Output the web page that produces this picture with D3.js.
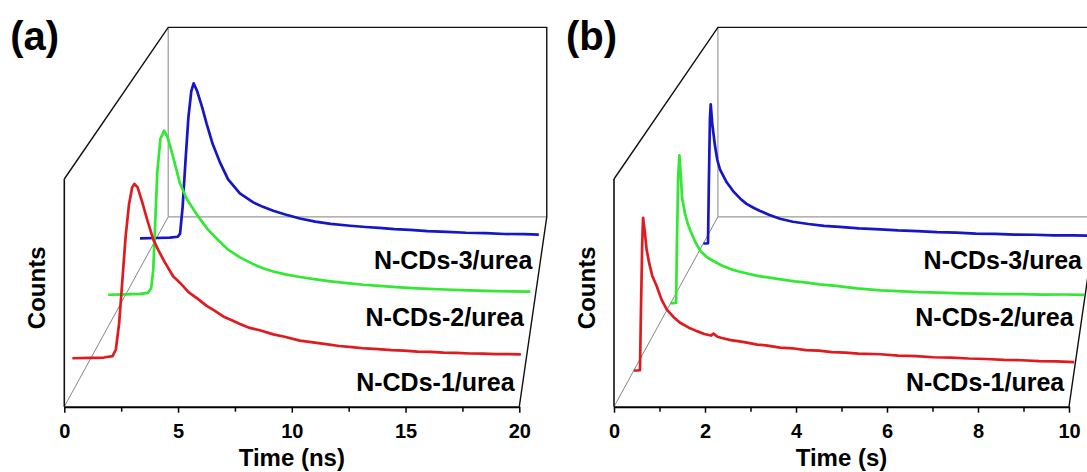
<!DOCTYPE html>
<html>
<head>
<meta charset="utf-8">
<script src="https://cdn.jsdelivr.net/npm/d3@7"></script>
<style>
  body { margin: 0; background: #fff; }
  svg text { font-family: "Liberation Sans", Arial, sans-serif; font-weight: bold; fill: #000; }
</style>
</head>
<body>
<script>
(function() {

	// ---- data ----------------------------------------------------------

	var seriesNames = ['N-CDs-1/urea', 'N-CDs-2/urea', 'N-CDs-3/urea'];
	var seriesDepth = [1, 2, 3];

	var ticksA = [0, 5, 10, 15, 20];
	var minorTicksA = [2.5, 7.5, 12.5, 17.5];
	var ticksB = [0, 2, 4, 6, 8, 10];
	var minorTicksB = [1, 3, 5, 7, 9];

	// panel (a): time in ns, normalised counts
	var decayA1 = [[-0.85,0],[0,0.002],[0.6,0.004],[1.0,0.012],[1.15,0.05],[1.3,0.2],[1.45,0.45],[1.6,0.7],
		[1.75,0.88],[1.9,0.98],[2.0,1.0],[2.15,0.98],[2.35,0.9],[2.6,0.79],[2.87,0.68],[3.1,0.62],[3.4,0.55],
		[3.78,0.47],[4.1,0.432],[4.5,0.378],[4.9,0.342],[5.32,0.3],[5.7,0.272],[6.1,0.238],[6.5,0.216],
		[6.85,0.196],[7.3,0.174],[7.8,0.159],[8.38,0.137],[8.9,0.123],[9.6,0.101],[10.2,0.091],[10.8,0.081],
		[11.4,0.07],[12,0.064],[12.6,0.056],[13.2,0.052],[13.8,0.046],[14.4,0.044],[15,0.038],[15.6,0.036],
		[16.2,0.032],[16.8,0.031],[17.4,0.027],[18,0.026],[18.6,0.024],[19.2,0.024],[19.75,0.022]];

	var decayA2 = [[-0.85,0],[0,0.002],[0.7,0.005],[1.1,0.012],[1.25,0.04],[1.35,0.15],[1.45,0.45],[1.55,0.75],
		[1.7,0.95],[1.88,1.0],[2.05,0.96],[2.3,0.85],[2.65,0.68],[3.0,0.58],[3.47,0.49],[4.0,0.4],[4.5,0.335],
		[5.0,0.275],[5.58,0.228],[6.2,0.188],[6.7,0.162],[7.2,0.142],[7.8,0.124],[8.5,0.108],[9.2,0.095],
		[10,0.082],[10.8,0.071],[11.6,0.061],[12.4,0.054],[13.2,0.046],[14,0.041],[14.8,0.036],[15.6,0.032],
		[16.4,0.028],[17.2,0.025],[18,0.022],[18.8,0.021],[19.75,0.019]];

	var decayA3 = [[-0.85,0],[0,0.002],[0.7,0.004],[1.1,0.01],[1.22,0.03],[1.35,0.2],[1.5,0.5],[1.65,0.78],
		[1.8,0.95],[1.92,1.0],[2.1,0.95],[2.35,0.85],[2.59,0.74],[2.9,0.61],[3.28,0.49],[3.7,0.38],[4.31,0.29],
		[5.0,0.232],[5.5,0.203],[6.03,0.178],[6.7,0.152],[7.41,0.128],[8.2,0.108],[9,0.093],[10,0.081],
		[10.8,0.073],[11.5,0.067],[12.3,0.059],[13.1,0.054],[14,0.047],[15,0.042],[16,0.036],[17,0.033],
		[18,0.028],[19,0.027],[19.75,0.024]];

	// panel (b): time in s, normalised counts
	var decayB1 = [[0,0],[0.08,0],[0.14,0.002],[0.16,0.35],[0.19,0.8],[0.21,0.97],[0.25,0.88],[0.29,0.77],
		[0.35,0.68],[0.42,0.6],[0.52,0.535],[0.63,0.45],[0.75,0.387],[0.9,0.34],[1.05,0.303],[1.25,0.272],
		[1.43,0.25],[1.6,0.232],[1.75,0.222],[1.81,0.234],[1.9,0.214],[2.0,0.206],[2.2,0.193],[2.4,0.185],
		[2.57,0.177],[2.8,0.164],[3.0,0.16],[3.32,0.145],[3.6,0.141],[3.9,0.129],[4.2,0.126],[4.5,0.117],
		[4.8,0.113],[5.1,0.107],[5.6,0.103],[6.0,0.094],[6.4,0.091],[6.8,0.084],[7.2,0.082],[7.6,0.076],
		[8.0,0.073],[8.4,0.067],[8.8,0.065],[9.2,0.06],[9.6,0.058],[10,0.053]];

	var decayB2 = [[0,0],[0.08,0],[0.13,0.002],[0.15,0.4],[0.18,0.85],[0.21,1.0],[0.24,0.88],[0.275,0.713],
		[0.35,0.6],[0.42,0.53],[0.48,0.488],[0.6,0.41],[0.72,0.353],[0.88,0.31],[1.04,0.283],[1.25,0.253],
		[1.45,0.23],[1.65,0.214],[1.85,0.2],[2.1,0.184],[2.35,0.174],[2.66,0.161],[3.0,0.147],[3.3,0.139],
		[3.6,0.127],[4.0,0.117],[4.5,0.099],[5.08,0.086],[5.5,0.081],[6.0,0.074],[6.5,0.071],[7.0,0.066],
		[7.5,0.064],[8.0,0.06],[8.5,0.061],[9.0,0.057],[9.5,0.058],[10,0.056]];

	var decayB3 = [[0,0],[0.07,0],[0.12,0.002],[0.14,0.4],[0.17,0.9],[0.19,1.0],[0.23,0.86],[0.3,0.7],
		[0.36,0.6],[0.43,0.53],[0.6,0.44],[0.77,0.375],[0.95,0.322],[1.11,0.285],[1.3,0.255],[1.46,0.234],
		[1.7,0.205],[1.97,0.178],[2.3,0.156],[2.7,0.14],[3.1,0.127],[3.5,0.119],[4.0,0.109],[4.55,0.102],
		[5.0,0.094],[5.5,0.089],[6.0,0.081],[6.5,0.078],[7.0,0.071],[7.5,0.069],[8.0,0.064],[8.5,0.063],
		[9.0,0.059],[9.5,0.058],[10,0.056]];

	// ---- layout --------------------------------------------------------

	var width = 1087;
	var height = 472;
	var originY = 406.7;
	var frontWidth = 455;
	var frontHeight = 227.7;
	var vanish = [618.5, -1130];      // vanishing point, relative to the front origin
	var persp = 1 / 0.832 - 1;        // back plane is drawn at 0.832 of the front size
	var colors = ['#e01b1f', '#33e833', '#1616c4'];
	var labelDepth = [0.07, 0.38, 0.69];

	var svg = d3.select('body')
		.append('svg')
			.attr('width', width)
			.attr('height', height);

	svg.append('rect')
		.attr('width', width)
		.attr('height', height)
		.attr('fill', '#fff');

	function drawPanel(cfg) {

		var g = svg.append('g')
			.attr('transform', 'translate(' + cfg.originX + ',' + originY + ')');

		var x = d3.scaleLinear().domain(cfg.timeDomain).range([0, frontWidth]);
		var y = d3.scaleLinear().domain([0, cfg.countMax]).range([0, -frontHeight]);
		var depth = d3.scaleLinear().domain(cfg.depthDomain).range([0, 1]);

		function project(t, v, u) {
			var s = 1 / (1 + persp * u);
			return [vanish[0] + (x(t) - vanish[0]) * s, vanish[1] + (y(v) - vanish[1]) * s];
		}

		var t0 = cfg.timeDomain[0], t1 = cfg.timeDomain[1], vTop = cfg.countMax;
		var seg = d3.line();

		function frame(points, color, w) {
			g.append('path')
				.attr('d', seg(points))
				.attr('fill', 'none')
				.attr('stroke', color)
				.attr('stroke-width', w);
		}

		// box behind the curves
		frame([project(t0, 0, 1), project(t1, 0, 1)], '#9a9a9a', 1.2);
		frame([project(t0, 0, 1), project(t0, vTop, 1)], '#9a9a9a', 1.2);
		frame([project(t0, 0, 0), project(t0, 0, 1)], '#666', 0.8);
		frame([project(t0, vTop, 0), project(t0, vTop, 1), project(t1, vTop, 1), project(t1, 0, 1), project(t1, 0, 0)], '#111', 1.4);
		frame([project(t0, 0, 0), project(t0, vTop, 0)], '#111', 1.6);

		// decay curves, back one first
		for (var i = cfg.series.length - 1; i >= 0; i--) {
			var u = depth(seriesDepth[i]);
			var line = d3.line()
				.x(function(d) { return project(d[0], d[1], u)[0]; })
				.y(function(d) { return project(d[0], d[1], u)[1]; });
			g.append('path')
				.datum(cfg.series[i])
				.attr('d', line)
				.attr('fill', 'none')
				.attr('stroke', colors[i])
				.attr('stroke-width', 2.7)
				.attr('stroke-linejoin', 'round');
		}

		// series labels along the right edge
		seriesNames.forEach(function(name, i) {
			var p = project(t1, 0, labelDepth[i]);
			g.append('text')
				.attr('x', p[0] - 7)
				.attr('y', p[1])
				.attr('text-anchor', 'end')
				.style('font-size', '25px')
				.text(name);
		});

		// time axis on the front plane
		var axis = g.append('g')
			.call(d3.axisBottom(x).tickValues(cfg.ticks).tickSize(6).tickPadding(11).tickSizeOuter(0).tickFormat(d3.format('d')));
		axis.select('.domain').attr('stroke', '#000').attr('stroke-width', 2);
		axis.selectAll('.tick line').attr('stroke', '#000').attr('stroke-width', 1.5);
		axis.selectAll('.tick text')
			.attr('fill', '#000')
			.style('font-size', '20px')
			.style('font-family', '"Liberation Sans", Arial, sans-serif')
			.style('font-weight', 'bold');

		var minor = g.append('g')
			.call(d3.axisBottom(x).tickValues(cfg.minorTicks).tickSize(5).tickSizeOuter(0).tickFormat(''));
		minor.select('.domain').remove();
		minor.selectAll('.tick line').attr('stroke', '#000').attr('stroke-width', 1.5);

		g.append('text')
			.attr('x', frontWidth / 2)
			.attr('y', 59.5)
			.attr('text-anchor', 'middle')
			.style('font-size', '24px')
			.text(cfg.xTitle);

		g.append('text')
			.attr('transform', 'translate(-19,' + (-frontHeight / 2 - 5) + ') rotate(-90)')
			.attr('text-anchor', 'middle')
			.style('font-size', '24px')
			.text('Counts');

		svg.append('text')
			.attr('x', cfg.originX + cfg.letterDx)
			.attr('y', 50)
			.style('font-size', '40px')
			.text(cfg.letter);
	}

	drawPanel({
		originX: 64.3,
		timeDomain: [0, 20],
		countMax: 1.25,
		depthDomain: [0.312, 3.412],
		ticks: ticksA,
		minorTicks: minorTicksA,
		series: [decayA1, decayA2, decayA3],
		xTitle: 'Time (ns)',
		letter: '(a)',
		letterDx: -54
	});

	drawPanel({
		originX: 614,
		timeDomain: [0, 10],
		countMax: 1.4,
		depthDomain: [0.512, 3.488],
		ticks: ticksB,
		minorTicks: minorTicksB,
		series: [decayB1, decayB2, decayB3],
		xTitle: 'Time (s)',
		letter: '(b)',
		letterDx: -48
	});

})();
</script>
</body>
</html>
